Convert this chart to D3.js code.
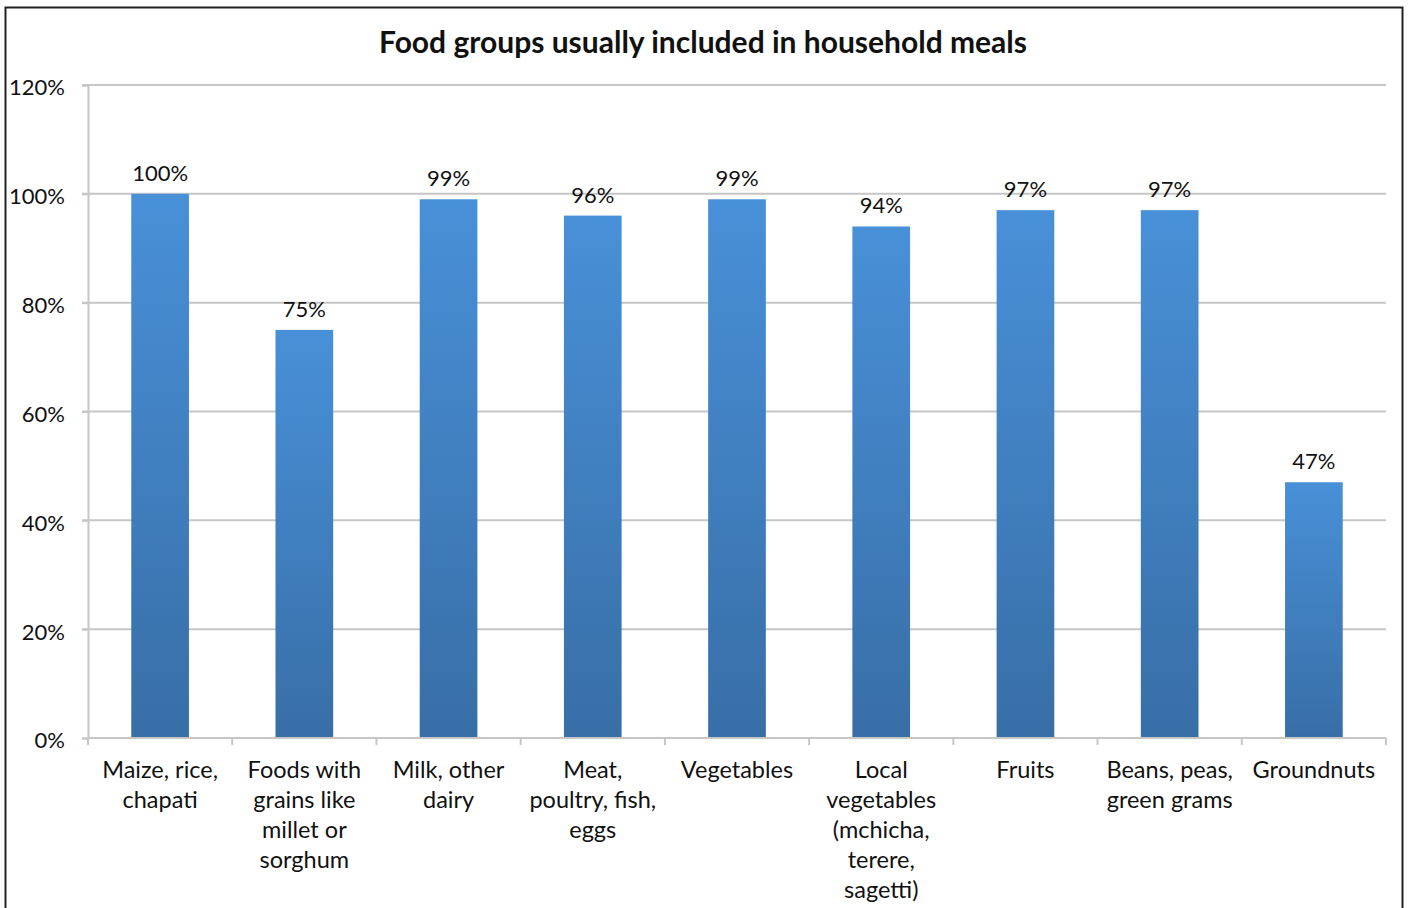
<!DOCTYPE html>
<html><head><meta charset="utf-8">
<script src="https://cdn.jsdelivr.net/npm/d3@7"></script>
<style>
html,body{margin:0;padding:0;background:#fff;}
svg{display:block;}
text{font-family:Lato,"Open Sans",sans-serif;fill:#111;}
</style></head>
<body>
<svg id="chart" width="1408" height="908"></svg>
<script>
const title = "Food groups usually included in household meals";
const categories = [
  ["Maize, rice,","chapati"],
  ["Foods with","grains like","millet or","sorghum"],
  ["Milk, other","dairy"],
  ["Meat,","poultry, fish,","eggs"],
  ["Vegetables"],
  ["Local","vegetables","(mchicha,","terere,","sagetti)"],
  ["Fruits"],
  ["Beans, peas,","green grams"],
  ["Groundnuts"]
];
const values = [1.00, 0.75, 0.99, 0.96, 0.99, 0.94, 0.97, 0.97, 0.47];
const yTicks = [0, 0.2, 0.4, 0.6, 0.8, 1.0, 1.2];

const svg = d3.select("#chart");
const mLeft = 88, mRight = 1386, mTop = 85, mBottom = 738;

// frame
svg.append("rect").attr("x",5.5).attr("y",7.5).attr("width",1397).attr("height",920)
  .attr("fill","#fff").attr("stroke","#222").attr("stroke-width",2);

const defs = svg.append("defs");
const grad = defs.append("linearGradient").attr("id","barGrad")
  .attr("x1",0).attr("y1",0).attr("x2",0).attr("y2",1);
grad.append("stop").attr("offset","0%").attr("stop-color","#4890d8");
grad.append("stop").attr("offset","100%").attr("stop-color","#386ea6");

const x = d3.scaleBand().domain(d3.range(categories.length)).range([mLeft,mRight])
  .paddingInner(0.6).paddingOuter(0.3);
const y = d3.scaleLinear().domain([0,1.2]).range([mBottom,mTop]);

// gridlines
svg.append("g").selectAll("line").data(yTicks.filter(d=>d>0)).join("line")
  .attr("x1",mLeft-6).attr("x2",mRight).attr("y1",d=>y(d)).attr("y2",d=>y(d))
  .attr("stroke","#c6c6c6").attr("stroke-width",2);

// y axis
const yAxis = d3.axisLeft(y).tickValues(yTicks).tickFormat(d3.format(".0%")).tickSize(6).tickPadding(17);
const gy = svg.append("g").attr("transform",`translate(${mLeft},0)`).call(yAxis);
gy.select(".domain").attr("stroke","#c6c6c6").attr("stroke-width",2);
gy.selectAll(".tick line").attr("stroke","#c6c6c6").attr("stroke-width",2);
gy.selectAll(".tick text").style("font-size","22px").style("font-family","Lato,sans-serif").attr("fill","#111").attr("dy","0.45em");

// bars
svg.append("g").selectAll("rect").data(values).join("rect")
  .attr("x",(d,i)=>x(i)).attr("width",x.bandwidth())
  .attr("y",d=>y(d)).attr("height",d=>y(0)-y(d))
  .attr("fill","url(#barGrad)");

// x axis baseline and ticks
const boundaries = d3.range(categories.length+1).map(i=> i===0 ? mLeft : (i===categories.length ? mRight : x(i) - x.step()*x.paddingInner()/2));
svg.append("line").attr("x1",mLeft).attr("x2",mRight).attr("y1",y(0)).attr("y2",y(0))
  .attr("stroke","#c6c6c6").attr("stroke-width",2);
svg.append("g").selectAll("line").data(boundaries).join("line")
  .attr("x1",d=>d).attr("x2",d=>d).attr("y1",y(0)).attr("y2",y(0)+7)
  .attr("stroke","#c6c6c6").attr("stroke-width",2);

// category labels
const lbl = svg.append("g").selectAll("text").data(categories).join("text")
  .attr("text-anchor","middle").style("font-size","23.5px")
  .attr("transform",(d,i)=>`translate(${x(i)+x.bandwidth()/2},${y(0)+40})`);
lbl.selectAll("tspan").data(d=>d).join("tspan")
  .attr("x",0).attr("y",(d,j)=>j*30).text(d=>d);

// data labels
svg.append("g").selectAll("text").data(values).join("text")
  .attr("x",(d,i)=>x(i)+x.bandwidth()/2).attr("y",d=>y(d)-13)
  .attr("text-anchor","middle").style("font-size","22px")
  .text(d=>d3.format(".0%")(d));

// title
svg.append("text").attr("x",703).attr("y",53).attr("text-anchor","middle")
  .style("font-size","30px").style("font-weight","bold").text(title);
</script>
</body></html>
